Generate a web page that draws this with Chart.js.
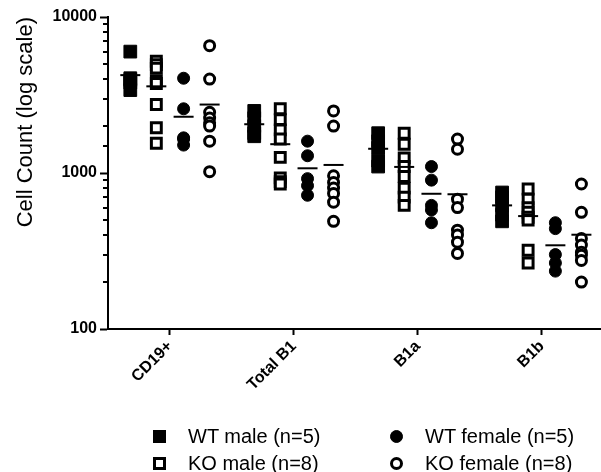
<!DOCTYPE html>
<html>
<head>
<meta charset="utf-8">
<script src="https://cdn.jsdelivr.net/npm/chart.js@4.4.1/dist/chart.umd.min.js"></script>
<style>
  body { margin: 0; background: #fff; overflow: hidden; }
  #wrap { position: relative; width: 601px; height: 472px; overflow: hidden; }
  #legend {
    position: absolute; left: 153px; top: 423px;
    display: grid; grid-template-columns: 237px auto;
    font: 20px "Liberation Sans", Arial, sans-serif; color: #000;
  }
  .item { display: flex; align-items: center; height: 27px; white-space: nowrap; }
  .mark { display: inline-block; box-sizing: border-box; width: 13px; height: 13px; margin-right: 22px; }
</style>
</head>
<body>
<div id="wrap">
  <canvas id="cellchart" width="612" height="472"></canvas>
  <div id="legend"></div>
</div>
<script>
// categories on the x axis
const categories = ["CD19+", "Total B1", "B1a", "B1b"];
const decadeTicks = [100, 1000, 10000];

// cell counts, one list per category
const wtMale = [
  [6000, 4050, 3950, 3800, 3400],
  [2500, 2250, 2000, 1800, 1720],
  [1800, 1600, 1450, 1200, 1100],
  [750, 700, 620, 540, 490]
];
const wtFemale = [
  [4050, 2580, 1680, 1650, 1510],
  [1600, 1290, 920, 830, 720],
  [1100, 900, 620, 580, 480],
  [480, 440, 300, 265, 235]
];
const koMale = [
  [5200, 4950, 4700, 3900, 3750, 2750, 1950, 1550],
  [2580, 2200, 1890, 1650, 1260, 930, 880, 850],
  [1800, 1530, 1250, 1100, 950, 800, 700, 620],
  [790, 680, 600, 560, 520, 500, 320, 265]
];
const koFemale = [
  [6550, 4000, 2450, 2250, 2100, 2000, 1600, 1020],
  [2500, 2000, 960, 870, 800, 740, 650, 490],
  [1650, 1420, 680, 600, 430, 400, 360, 305],
  [850, 560, 380, 345, 310, 297, 275, 200]
];

// column position of each group inside a category
const groupOffset = { wtMale: -0.32, koMale: -0.11, wtFemale: 0.11, koFemale: 0.32 };

function toPoints(values, offset) {
  let pts = [];
  values.forEach((list, i) => {
    list.forEach((v) => pts.push({ x: i + offset, y: v }));
  });
  return pts;
}

function meanPoints(values, offset) {
  return values.map((list, i) => ({
    x: i + offset,
    y: list.reduce((a, b) => a + b, 0) / list.length
  }));
}

const isDecade = (v) => decadeTicks.includes(v);

// short ticks between decades
const minorTicks = {
  id: "minorTicks",
  afterDraw(chart) {
    const y = chart.scales.y;
    const ctx = chart.ctx;
    ctx.save();
    ctx.strokeStyle = "#000";
    ctx.lineWidth = 2;
    y.ticks.forEach((t) => {
      if (isDecade(t.value)) return;
      const py = Math.round(y.getPixelForValue(t.value));
      ctx.beginPath();
      ctx.moveTo(y.right - 5, py);
      ctx.lineTo(y.right, py);
      ctx.stroke();
    });
    ctx.restore();
  }
};

// two-column legend under the chart
const htmlLegend = {
  id: "htmlLegend",
  afterUpdate(chart) {
    const box = document.getElementById("legend");
    box.innerHTML = "";
    chart.data.datasets.forEach((ds) => {
      if (ds.label === "Mean") return;
      let item = document.createElement("div");
      item.className = "item";
      let mark = document.createElement("span");
      mark.className = "mark";
      mark.style.borderRadius = ds.pointStyle === "circle" ? "50%" : "0";
      mark.style.background = ds.backgroundColor;
      mark.style.border = ds.borderWidth + "px solid " + ds.borderColor;
      let text = document.createElement("span");
      text.textContent = ds.label;
      item.append(mark, text);
      box.append(item);
    });
  }
};

const chart = new Chart(document.getElementById("cellchart"), {
  type: "scatter",
  data: {
    datasets: [
      {
        label: "Mean",
        data: [].concat(
          meanPoints(wtMale, groupOffset.wtMale),
          meanPoints(wtFemale, groupOffset.wtFemale),
          meanPoints(koMale, groupOffset.koMale),
          meanPoints(koFemale, groupOffset.koFemale)
        ),
        pointStyle: "line",
        pointRadius: 10,
        borderColor: "#000",
        borderWidth: 2
      },
      {
        label: "WT male (n=5)",
        data: toPoints(wtMale, groupOffset.wtMale),
        pointStyle: "rect",
        pointRadius: 9,
        backgroundColor: "#000",
        borderColor: "#000",
        borderWidth: 1
      },
      {
        label: "WT female (n=5)",
        data: toPoints(wtFemale, groupOffset.wtFemale),
        pointStyle: "circle",
        pointRadius: 6,
        backgroundColor: "#000",
        borderColor: "#000",
        borderWidth: 1
      },
      {
        label: "KO male (n=8)",
        data: toPoints(koMale, groupOffset.koMale),
        pointStyle: "rect",
        pointRadius: 7,
        backgroundColor: "#fff",
        borderColor: "#000",
        borderWidth: 3
      },
      {
        label: "KO female (n=8)",
        data: toPoints(koFemale, groupOffset.koFemale),
        pointStyle: "circle",
        pointRadius: 5,
        backgroundColor: "#fff",
        borderColor: "#000",
        borderWidth: 3
      }
    ]
  },
  options: {
    responsive: false,
    animation: false,
    events: [],
    layout: { padding: { top: 17, right: 0, bottom: 0, left: 0 } },
    plugins: {
      legend: { display: false },
      tooltip: { enabled: false }
    },
    scales: {
      x: {
        type: "linear",
        min: -0.5,
        max: 3.47,
        afterBuildTicks: (scale) => {
          scale.ticks = categories.map((c, i) => ({ value: i }));
        },
        afterFit: (scale) => {
          scale.height = 143;
        },
        ticks: {
          callback: (v) => categories[v],
          autoSkip: false,
          minRotation: 45,
          maxRotation: 45,
          padding: 2,
          color: "#000",
          font: { family: "'Liberation Sans', Arial, sans-serif", size: 16, weight: "bold" }
        },
        grid: { drawOnChartArea: false, tickLength: 6, tickWidth: 2, tickColor: "#000" },
        border: { width: 2, color: "#000" }
      },
      y: {
        type: "logarithmic",
        min: 100,
        max: 10000,
        afterFit: (scale) => {
          scale.width = 108;
        },
        ticks: {
          callback: (v) => (isDecade(v) ? String(v) : ""),
          autoSkip: false,
          padding: 3,
          color: "#000",
          font: { family: "'Liberation Sans', Arial, sans-serif", size: 16, weight: "bold" }
        },
        grid: {
          drawOnChartArea: false,
          tickLength: 8,
          tickWidth: 2,
          tickColor: (ctx) => (ctx.tick && isDecade(ctx.tick.value) ? "#000" : "rgba(0,0,0,0)")
        },
        border: { width: 2, color: "#000" },
        title: {
          display: true,
          text: "Cell Count (log scale)",
          align: "end",
          color: "#000",
          padding: { top: 13, bottom: 0 },
          font: { family: "'Liberation Sans', Arial, sans-serif", size: 22 }
        }
      }
    }
  },
  plugins: [minorTicks, htmlLegend]
});
</script>
</body>
</html>
